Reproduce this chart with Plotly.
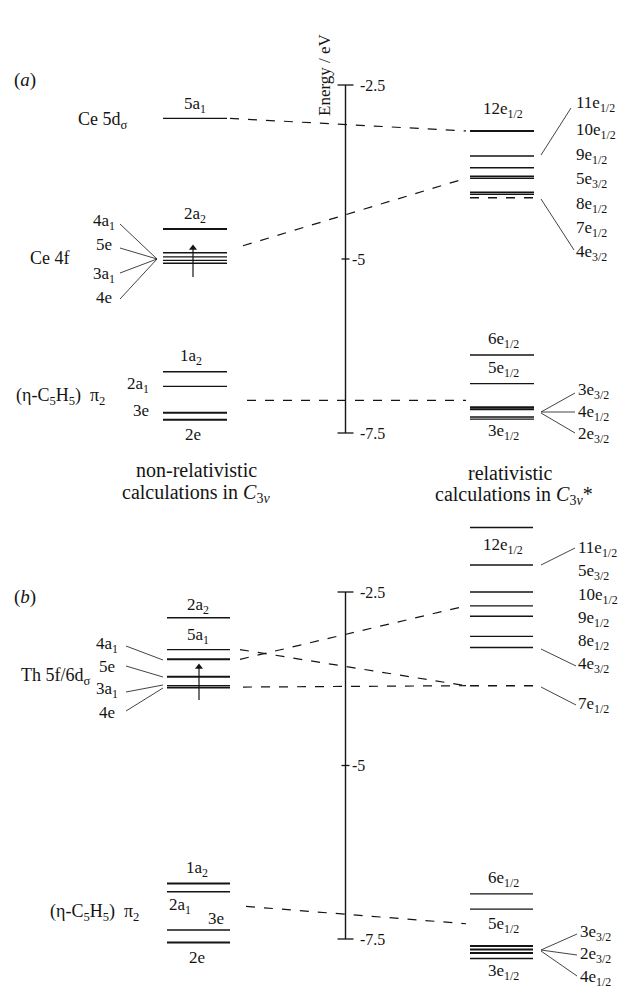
import plotly.graph_objects as go

# ---------------- DATA (energies in eV) ----------------
AXIS_TICKS = [-2.5, -5, -7.5]
AXIS_TICK_LABELS = ["-2.5", "-5", "-7.5"]

# panel (a) Ce: non-relativistic levels
A_NR_NAMES = ["5a1", "2a2", "4a1", "5e", "3a1", "4e", "1a2", "2a1", "3e", "2e"]
A_NR_E = [-2.98, -4.57, -4.91, -4.97, -5.02, -5.06, -6.62, -6.83, -7.21, -7.31]
# panel (a) relativistic levels
A_R_NAMES = ["12e1/2", "11e1/2", "10e1/2", "9e1/2", "5e3/2", "8e1/2", "7e1/2", "4e3/2",
             "6e1/2", "5e1/2", "3e3/2", "4e1/2", "2e3/2", "3e1/2"]
A_R_E = [-3.16, -3.52, -3.69, -3.81, -3.84, -4.04, -4.07, -4.12,
         -6.38, -6.79, -7.13, -7.16, -7.27, -7.30]
A_R_OCC = ["4e3/2"]  # drawn dashed

# panel (b) Th: non-relativistic levels
B_NR_NAMES = ["2a2", "5a1", "4a1", "5e", "3a1", "4e", "1a2", "2a1", "3e", "2e"]
B_NR_E = [-2.87, -3.33, -3.47, -3.72, -3.85, -3.88, -6.70, -6.82, -7.37, -7.55]
# panel (b) relativistic levels
B_R_NAMES = ["12e1/2", "11e1/2", "5e3/2", "10e1/2", "9e1/2", "8e1/2", "4e3/2", "7e1/2",
             "6e1/2", "5e1/2", "3e3/2", "2e3/2", "4e1/2", "3e1/2"]
B_R_E = [-1.57, -2.11, -2.50, -2.70, -2.85, -3.14, -3.30, -3.85,
         -6.85, -7.07, -7.60, -7.65, -7.70, -7.78]
B_R_OCC = ["7e1/2"]

# correlation (dashed) lines: (left energy, right energy)
A_CORR = [(-2.98, -3.16), (-4.81, -3.84), (-7.03, -7.03)]
B_CORR = [(-3.47, -2.70), (-3.33, -3.85), (-3.87, -3.85), (-7.03, -7.28)]

# ---------------- layout helpers ----------------
W, H = 623, 988
A0, AS = 85, 69.6    # pixel row of -2.5 eV and px per eV, panel (a)
B0, BS = 592, 69.4   # panel (b)


def Ya(p):
    return -2.5 - (p - A0) / AS


def Yb(p):
    return -2.5 - (p - B0) / BS


FONT = "Liberation Serif, Times New Roman, DejaVu Serif, serif"
INK = "#141414"
LS = 17   # level label size
fig = go.Figure()


def seg(xs, ys, yax, width=1.3, dash="solid", color=INK):
    fig.add_trace(go.Scatter(x=xs, y=ys, yaxis=yax, mode="lines",
                             line=dict(color=color, width=width, dash=dash),
                             hoverinfo="skip", showlegend=False))


def levels(energies, names, occ, x0, x1, yax, thick=()):
    for e, n in zip(energies, names):
        w = 2.0 if n in thick else 1.4
        seg([x0, x1], [e, e], yax, width=w, dash="dash" if n in occ else "solid")


def txt(x, p, s, size=LS, xanchor="center", angle=0):
    fig.add_annotation(x=x, y=1 - p / H, xref="x", yref="paper", text=s,
                       showarrow=False, xanchor=xanchor, yanchor="middle",
                       textangle=angle,
                       font=dict(family=FONT, size=size, color=INK))


def lab(n):
    # "12e1/2" -> 12e<sub>1/2</sub>, "5a1" -> 5a<sub>1</sub>
    for k, ch in enumerate(n):
        if ch in "ae":
            head, sub = n[:k + 1], n[k + 1:]
            return head + (f"<sub>{sub}</sub>" if sub else "")
    return n


# ---------------- energy axes ----------------
AX_X = 345.5
for yax in ("y", "y2"):
    seg([AX_X, AX_X], [AXIS_TICKS[0], AXIS_TICKS[-1]], yax, width=1.4)
    for t in AXIS_TICKS:
        half = 4 if t == -5 else 8
        seg([AX_X - half, AX_X + half], [t, t], yax, width=1.3)
    for t, tl in zip(AXIS_TICKS, AXIS_TICK_LABELS):
        dx = 4 if t == -5 else 12
        fig.add_annotation(x=AX_X + dx, y=t, xref="x", yref=yax, text=tl, showarrow=False,
                           xanchor="left", yanchor="middle",
                           font=dict(family=FONT, size=16, color=INK))
txt(324, 75, "Energy / eV", size=17, angle=-90)

# ---------------- panel (a) ----------------
txt(25, 80, "(<i>a</i>)", size=19)
LX0, LX1, RX0, RX1 = 163, 227, 470, 534
levels(A_NR_E, A_NR_NAMES, [], LX0, LX1, "y", thick=("2a2", "3e", "2e"))
levels(A_R_E, A_R_NAMES, A_R_OCC, RX0, RX1, "y", thick=("12e1/2", "3e3/2", "4e1/2"))
# arrow (f electron)
seg([193, 193], [Ya(277), Ya(247)], "y", width=1.2)
fig.add_trace(go.Scatter(x=[193], y=[Ya(248)], yaxis="y", mode="markers",
                         marker=dict(symbol="triangle-up", size=7, color=INK),
                         hoverinfo="skip", showlegend=False))
# correlation lines
seg([230, 466], list(A_CORR[0]), "y", width=1.2, dash="dash")
seg([243, 466], list(A_CORR[1]), "y", width=1.2, dash="dash")
seg([247, 466], list(A_CORR[2]), "y", width=1.2, dash="dash")

txt(103, 120, "Ce 5d<sub>σ</sub>", size=18)
txt(195, 105, lab("5a1"))
txt(195, 215, lab("2a2"))
txt(50, 258, "Ce 4f", size=18)
for name, p, lp in (("4a1", 222, 224), ("5e", 244, 248), ("3a1", 275, 273), ("4e", 297, 299)):
    txt(104, p, lab(name))
    seg([120, 157], [Ya(lp), Ya(259)], "y", width=0.8)

txt(191, 357, lab("1a2"))
txt(151, 385, lab("2a1"), xanchor="right")
txt(151, 410, "3e", xanchor="right")
txt(193, 434, "2e")
txt(60, 396, "(η-C<sub>5</sub>H<sub>5</sub>)  π<sub>2</sub>", size=18)

# right labels (a)
txt(503, 110, lab("12e1/2"))
for name, p in (("11e1/2", 104), ("10e1/2", 131), ("9e1/2", 156), ("5e3/2", 180),
                ("8e1/2", 205), ("7e1/2", 229), ("4e3/2", 253)):
    txt(574, p, lab(name), xanchor="left")
seg([541, 571], [Ya(155), Ya(108)], "y", width=0.8)
seg([541, 574], [Ya(199), Ya(250)], "y", width=0.8)

txt(503, 340, lab("6e1/2"))
txt(503, 369, lab("5e1/2"))
txt(503, 432, lab("3e1/2"))
for name, p in (("3e3/2", 391), ("4e1/2", 413), ("2e3/2", 435)):
    txt(576, p, lab(name), xanchor="left")
seg([541, 575], [Ya(412), Ya(393)], "y", width=0.8)
seg([541, 575], [Ya(412), Ya(412)], "y", width=0.8)
seg([541, 575], [Ya(413), Ya(433)], "y", width=0.8)

txt(196, 470, "non-relativistic", size=20)
txt(196, 493, "calculations in <i>C</i><sub>3<i>v</i></sub>", size=20)
txt(510, 473, "relativistic", size=20)
txt(514, 496, "calculations in <i>C</i><sub>3<i>v</i></sub>*", size=20)

# ---------------- panel (b) ----------------
txt(25, 597, "(<i>b</i>)", size=19)
LX0, LX1, RX0, RX1 = 167, 230, 470, 533
levels(B_NR_E, B_NR_NAMES, [], LX0, LX1, "y2", thick=("4a1", "5e", "1a2", "2e"))
levels(B_R_E, B_R_NAMES, B_R_OCC, RX0, RX1, "y2", thick=("3e3/2", "2e3/2", "4e1/2"))
seg([199, 199], [Yb(700), Yb(667)], "y2", width=1.2)
fig.add_trace(go.Scatter(x=[199], y=[Yb(667)], yaxis="y2", mode="markers",
                         marker=dict(symbol="triangle-up", size=7, color=INK),
                         hoverinfo="skip", showlegend=False))
seg([240, 466], list(B_CORR[0]), "y2", width=1.2, dash="dash")
seg([240, 466], list(B_CORR[1]), "y2", width=1.2, dash="dash")
seg([243, 466], list(B_CORR[2]), "y2", width=1.2, dash="dash")
seg([246, 466], list(B_CORR[3]), "y2", width=1.2, dash="dash")

txt(198, 606, lab("2a2"))
txt(198, 636, lab("5a1"))
txt(56, 676, "Th 5f/6d<sub>σ</sub>", size=18)
ends = {"4a1": 660, "5e": 677, "3a1": 685, "4e": 688}
for name, p, lp in (("4a1", 645, 646), ("5e", 666, 666), ("3a1", 690, 692), ("4e", 712, 711)):
    txt(107, p, lab(name))
    seg([126, 163], [Yb(lp), Yb(ends[name])], "y2", width=0.8)

txt(197, 869, lab("1a2"))
txt(167, 906, lab("2a1"), xanchor="left")
txt(216, 918, "3e")
txt(197, 957, "2e")
txt(94, 912, "(η-C<sub>5</sub>H<sub>5</sub>)  π<sub>2</sub>", size=18)

txt(503, 546, lab("12e1/2"))
for name, p in (("11e1/2", 549), ("5e3/2", 572), ("10e1/2", 596), ("9e1/2", 619),
                ("8e1/2", 642), ("4e3/2", 665), ("7e1/2", 705)):
    txt(576, p, lab(name), xanchor="left")
seg([541, 575], [Yb(565), Yb(548)], "y2", width=0.8)
seg([541, 576], [Yb(649), Yb(666)], "y2", width=0.8)
seg([541, 576], [Yb(687), Yb(705)], "y2", width=0.8)

txt(503, 879, lab("6e1/2"))
txt(503, 925, lab("5e1/2"))
txt(503, 972, lab("3e1/2"))
for name, p in (("3e3/2", 933), ("2e3/2", 955), ("4e1/2", 978)):
    txt(578, p, lab(name), xanchor="left")
seg([541, 577], [Yb(950), Yb(934)], "y2", width=0.8)
seg([541, 577], [Yb(950), Yb(955)], "y2", width=0.8)
seg([541, 577], [Yb(951), Yb(976)], "y2", width=0.8)

fig.update_layout(
    width=W, height=H, margin=dict(l=0, r=0, t=0, b=0),
    paper_bgcolor="white", plot_bgcolor="white", showlegend=False,
    xaxis=dict(range=[0, W], visible=False, domain=[0, 1]),
    yaxis=dict(range=[Ya(H), Ya(0)], visible=False, domain=[0, 1]),
    yaxis2=dict(range=[Yb(H), Yb(0)], visible=False, overlaying="y"),
)
fig.write_html("out.html")
